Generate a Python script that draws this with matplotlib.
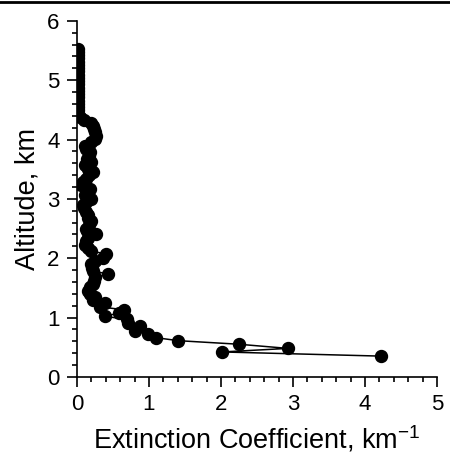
import matplotlib.pyplot as plt
from matplotlib.lines import Line2D
from matplotlib.ticker import MultipleLocator

# altitude (km) and extinction coefficient (km^-1), read from bottom to top
altitude = [0.35, 0.42, 0.48, 0.55, 0.61, 0.66, 0.72, 0.78, 0.85, 0.91,
            0.97, 1.02, 1.08, 1.13, 1.18, 1.25, 1.30, 1.35, 1.40, 1.45,
            1.51, 1.57, 1.62, 1.68, 1.73, 1.79, 1.84, 1.90, 1.96, 2.01,
            2.07, 2.12, 2.18, 2.23, 2.29, 2.34, 2.40, 2.45, 2.50, 2.56,
            2.62, 2.67, 2.73, 2.78, 2.84, 2.89, 2.95, 3.00, 3.06, 3.12,
            3.17, 3.23, 3.28, 3.34, 3.40, 3.46, 3.51, 3.57, 3.62, 3.68,
            3.73, 3.79, 3.84, 3.89, 3.95, 4.01, 4.06, 4.12, 4.18, 4.23,
            4.28, 4.33, 4.38, 4.43, 4.49, 4.54, 4.60, 4.65, 4.71, 4.76,
            4.82, 4.87, 4.93, 4.98, 5.04, 5.09, 5.15, 5.20, 5.26, 5.31,
            5.37, 5.42, 5.48, 5.53]
extinction = [4.22, 2.02, 2.93, 2.25, 1.41, 1.10, 0.98, 0.80, 0.87, 0.71,
              0.69, 0.39, 0.59, 0.66, 0.32, 0.39, 0.22, 0.25, 0.18, 0.15,
              0.18, 0.22, 0.24, 0.25, 0.43, 0.22, 0.21, 0.20, 0.25, 0.36,
              0.41, 0.20, 0.16, 0.11, 0.12, 0.15, 0.27, 0.14, 0.13, 0.17,
              0.20, 0.15, 0.15, 0.13, 0.10, 0.09, 0.13, 0.20, 0.11, 0.15,
              0.18, 0.05, 0.08, 0.12, 0.17, 0.22, 0.16, 0.11, 0.20, 0.14,
              0.17, 0.18, 0.12, 0.11, 0.20, 0.25, 0.26, 0.25, 0.24, 0.22,
              0.19, 0.10, 0.04, 0.02, 0.01, 0.02, 0.01, 0.02, 0.01, 0.02,
              0.02, 0.01, 0.02, 0.01, 0.02, 0.02, 0.01, 0.02, 0.02, 0.01,
              0.02, 0.02, 0.01, 0.01]

plt.rcParams['font.family'] = ['Liberation Sans', 'DejaVu Sans']

fig = plt.figure(figsize=(4.5, 4.63), dpi=100)
ax = fig.add_axes([0.171, 0.186, 0.80, 0.769])

ax.plot(extinction, altitude, "-o", color="black", lw=1.1, ms=8.6)

ax.set_xlim(0, 5)
ax.set_ylim(0, 6)
ax.xaxis.set_major_locator(MultipleLocator(1))
ax.xaxis.set_minor_locator(MultipleLocator(0.2))
ax.yaxis.set_major_locator(MultipleLocator(1))
ax.yaxis.set_minor_locator(MultipleLocator(0.2))
ax.spines["top"].set_visible(False)
ax.spines["right"].set_visible(False)
for s in ("left", "bottom"):
    ax.spines[s].set_linewidth(1.2)
ax.tick_params(which="major", length=7.5, width=1.2, labelsize=16, pad=5)
ax.tick_params(which="minor", length=3.6, width=1.2)

ax.set_xlabel("Extinction Coefficient, km$^{\\mathregular{-1}}$", fontsize=19.5, labelpad=6)
ax.set_ylabel("Altitude, km", fontsize=19.5, labelpad=5)

# border line at the top of the picture
fig.add_artist(Line2D([0, 1], [0.995, 0.995], color="black", lw=2))

fig.savefig("out.png")
